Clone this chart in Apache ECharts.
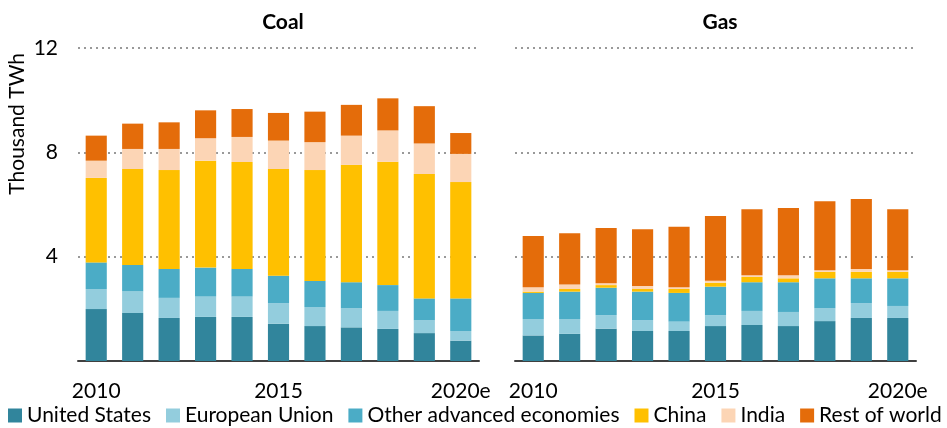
<!DOCTYPE html>
<html><head><meta charset="utf-8">
<script src="https://cdn.jsdelivr.net/npm/echarts@6/dist/echarts.min.js"></script>
<style>html,body{margin:0;padding:0;background:#fff}#c{width:947px;height:428px}</style>
</head><body><div id="c"></div>
<script>
const years = ['2010','2011','2012','2013','2014','2015','2016','2017','2018','2019','2020e'];
const seriesNames = ['United States','European Union','Other advanced economies','China','India','Rest of world'];
const colors = ['#31859c','#93cddd','#4bacc6','#ffc000','#fcd5b5','#e46c0a'];
const yTicks = [0,4,8,12];

const coalUS    = [1.99,1.84,1.65,1.69,1.69,1.43,1.34,1.29,1.23,1.07,0.78];
const coalEU    = [0.77,0.83,0.77,0.78,0.78,0.79,0.73,0.73,0.69,0.49,0.37];
const coalOther = [1.02,1.01,1.11,1.11,1.06,1.05,1.00,1.00,0.99,0.84,1.25];
const coalChina = [3.24,3.68,3.79,4.10,4.10,4.09,4.25,4.50,4.73,4.77,4.46];
const coalIndia = [0.66,0.77,0.81,0.86,0.96,1.09,1.07,1.12,1.20,1.17,1.08];
const coalRoW   = [0.96,0.97,1.02,1.07,1.07,1.06,1.17,1.18,1.23,1.43,0.80];

const gasUS    = [0.98,1.04,1.24,1.15,1.15,1.34,1.38,1.34,1.53,1.65,1.65];
const gasEU    = [0.63,0.57,0.52,0.42,0.36,0.42,0.54,0.54,0.49,0.57,0.46];
const gasOther = [1.00,1.05,1.05,1.09,1.10,1.09,1.10,1.14,1.15,0.95,1.06];
const gasChina = [0.05,0.10,0.10,0.10,0.15,0.15,0.20,0.15,0.25,0.25,0.25];
const gasIndia = [0.17,0.17,0.07,0.12,0.07,0.08,0.07,0.12,0.06,0.11,0.06];
const gasRoW   = [1.96,1.97,2.12,2.17,2.32,2.48,2.53,2.58,2.64,2.68,2.34];

const coalData = [coalUS,coalEU,coalOther,coalChina,coalIndia,coalRoW];
const gasData  = [gasUS,gasEU,gasOther,gasChina,gasIndia,gasRoW];

const FONT = 'Lato, "Liberation Sans", sans-serif';
const chart = echarts.init(document.getElementById('c'));

function xAx(idx){
  return {type:'category', gridIndex:idx, data:years,
    axisTick:{show:false},
    axisLine:{lineStyle:{color:'#404040', width:2}},
    axisLabel:{interval:4, color:'#000', fontSize:21, fontFamily:FONT, margin:20}};
}
function yAx(idx, showLabels){
  return {type:'value', gridIndex:idx, min:yTicks[0], max:yTicks[yTicks.length-1], interval:4,
    axisLine:{show:false}, axisTick:{show:false},
    splitLine:{lineStyle:{color:'#999', type:[2,4], width:2}},
    axisLabel:{show:showLabels, color:'#000', fontSize:21, fontFamily:FONT, margin:20,
      formatter: v => v === 0 ? '' : String(v)}};
}
const series = [];
[coalData, gasData].forEach((data, gi) => {
  data.forEach((vals, si) => {
    series.push({type:'bar', name:seriesNames[si], stack:'s'+gi, xAxisIndex:gi, yAxisIndex:gi,
      data:vals, barWidth:'58%', itemStyle:{color:colors[si]}, emphasis:{disabled:true}});
  });
});

chart.setOption({
  animation:false,
  color:colors,
  title:[
    {text:'Coal', left:278, top:7, textAlign:'center', textStyle:{fontFamily:FONT, fontWeight:'bold', fontSize:21, color:'#000'}},
    {text:'Gas', left:715, top:7, textAlign:'center', textStyle:{fontFamily:FONT, fontWeight:'bold', fontSize:21, color:'#000'}}
  ],
  grid:[
    {left:78, width:401, top:48, height:313},
    {left:515, width:401, top:48, height:313}
  ],
  xAxis:[xAx(0), xAx(1)],
  yAxis:[yAx(0,true), yAx(1,false)],
  legend:{data:seriesNames, bottom:2, left:8, width:940, padding:0, itemWidth:14, itemHeight:14, itemGap:15,
    icon:'rect', textStyle:{fontFamily:FONT, fontSize:21, color:'#000'}, selectedMode:false},
  graphic:[{type:'text', left:7, top:53, rotation:Math.PI/2,
    style:{text:'Thousand TWh', font:'21px '+FONT, fill:'#000'}}],
  series:series
});
</script></body></html>
